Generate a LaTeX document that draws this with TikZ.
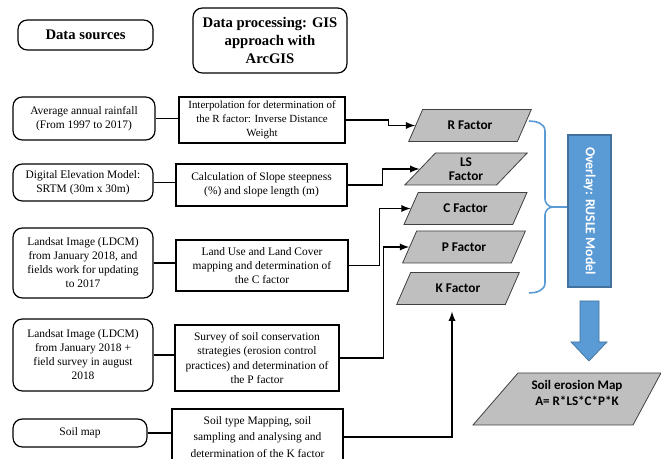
\documentclass[tikz,border=0pt]{standalone}
\usepackage{fontspec}
\setmainfont{Liberation Serif}
\newfontfamily\calibri{Carlito}
\usepackage{tikz}
\usetikzlibrary{arrows,positioning,shapes.geometric}

\definecolor{factorgray}{RGB}{191,191,191}
\definecolor{rusleblue}{RGB}{91,155,213}
\definecolor{rusleedge}{RGB}{65,113,156}
\newcommand{\pxu}{0.75pt}

\tikzset{
	headbox/.style={draw, rounded corners=7pt, line width=0.9pt, align=center, inner sep=0pt,
	  font=\fontsize{11}{13.5}\selectfont\bfseries},
	srcbox/.style={draw, rounded corners=7pt, line width=0.9pt, align=center, inner sep=0pt,
	  font=\fontsize{8.6}{10.5}\selectfont},
	procbox/.style={draw, line width=0.8pt, align=center, inner sep=0pt,
	  font=\fontsize{8.6}{10.8}\selectfont},
	factor/.style={trapezium, trapezium left angle=53, trapezium right angle=127, trapezium stretches=true,
	  draw=black!75, fill=factorgray, line width=0.6pt, minimum width=123*\pxu, minimum height=32*\pxu,
	  align=center, inner sep=0pt, font=\calibri\bfseries\fontsize{10}{10.5}\selectfont},
	rusle_box/.style={draw=rusleedge, fill=rusleblue, line width=0.8pt, rotate=-90, text=white,
	  minimum width=152*\pxu, minimum height=43*\pxu, inner sep=0pt, font=\calibri\bfseries\fontsize{10.3}{12}\selectfont},
	map_shape/.style={draw=black!75, fill=factorgray, line width=0.6pt},
	map_text/.style={align=center, inner sep=0pt, font=\calibri\bfseries\fontsize{9.8}{12}\selectfont},
	brace_line/.style={rusleblue, line width=1.2pt},
	link/.style={line width=1.4pt},
	flow/.style={line width=1.4pt, -latex},
}

\begin{document}
\begin{tikzpicture}[x=\pxu, y=-\pxu]
	\useasboundingbox (0,0) rectangle (661,459);
	\clip (0,0) rectangle (661,459);

	\node[headbox, minimum width=135*\pxu, minimum height=30*\pxu] (head_src) at (85.5,35) {Data sources};
	\node[headbox, minimum width=154*\pxu, minimum height=65*\pxu] (head_proc) at (270,40.5)
	  {Data processing: GIS\\approach with\\ArcGIS};

	\node[srcbox, minimum width=142*\pxu, minimum height=43*\pxu] (src_rain) at (84,118.5)
	  {Average annual rainfall\\(From 1997 to 2017)};
	\node[srcbox, minimum width=140*\pxu, minimum height=37*\pxu] (src_dem) at (83,182.5)
	  {Digital Elevation Model:\\SRTM (30m x 30m)};
	\node[srcbox, minimum width=140*\pxu, minimum height=70*\pxu] (src_lu) at (83,263)
	  {Landsat Image (LDCM)\\from January 2018, and\\fields work for updating\\to 2017};
	\node[srcbox, minimum width=140*\pxu, minimum height=72*\pxu] (src_p) at (83,355)
	  {Landsat Image (LDCM)\\from January 2018 +\\field survey in august\\2018};
	\node[srcbox, minimum width=134*\pxu, minimum height=28*\pxu] (src_soil) at (80,433) {Soil map};

	\node[procbox, minimum width=166*\pxu, minimum height=46*\pxu, font=\fontsize{8.2}{10.6}\selectfont] (proc_r) at (262,120)
	  {Interpolation for determination of\\the R factor: Inverse Distance\\Weight};
	\node[procbox, minimum width=171*\pxu, minimum height=42*\pxu] (proc_slope) at (261.5,185)
	  {Calculation of Slope steepness\\(\%) and slope length (m)};
	\node[procbox, minimum width=172*\pxu, minimum height=51*\pxu] (proc_lu) at (262,265.5)
	  {Land Use and Land Cover\\mapping and determination of\\the C factor};
	\node[procbox, minimum width=164*\pxu, minimum height=66*\pxu] (proc_p) at (257,358)
	  {Survey of soil conservation\\strategies (erosion control\\practices) and determination of\\the P factor};
	\node[procbox, minimum width=171*\pxu, minimum height=56*\pxu, font=\fontsize{8.6}{12.4}\selectfont] (proc_k) at (257.5,437)
	  {Soil type Mapping, soil\\sampling and analysing and\\determination of the K factor};

	\node[factor] (fac_r) at (470,125.5) {R Factor};
	\node[factor] (fac_ls) at (466,169) {LS\\Factor};
	\node[factor] (fac_c) at (465.5,208.5) {C Factor};
	\node[factor] (fac_p) at (464,247) {P Factor};
	\node[factor] (fac_k) at (458,288.5) {K Factor};

	\node[rusle_box] (rusle) at (589.5,211) {Overlay: RUSLE Model};

	\draw[map_shape] (473,425) -- (518,373) -- (661,373) -- (633,425) -- cycle;
	\node[map_text] (soil_map) at (577,393) {Soil erosion Map\\A= R*LS*C*P*K};

	\draw[link] (src_rain.east) -- (src_rain.east -| proc_r.west);
	\draw[link] (src_dem.east) -- (src_dem.east -| proc_slope.west);
	\draw[link] (src_lu.east) -- (src_lu.east -| proc_lu.west);
	\draw[link] (src_p.east) -- (src_p.east -| proc_p.west);
	\draw[link] (src_soil.east) -- (src_soil.east -| proc_k.west);

	\draw[flow] (proc_r.east) -- ++(43,0) |- (fac_r.west);
	\draw[flow] (proc_slope.east) -- ++(35,0) |- (fac_ls.west);
	\draw[flow] (proc_lu.east) -- ++(31,0) |- (fac_c.west);
	\draw[flow] (proc_p.east) -- ++(44,0) |- (fac_p.west);
	\draw[flow, shorten >=5pt] (proc_k.east) -| ([xshift=-4.5pt]fac_k.south);

	\coordinate (brace_top) at (529,121);
	\coordinate (brace_tip) at (553,207);
	\coordinate (brace_bot) at (529,293);
	\draw[brace_line] (brace_top) to[out=0,in=90] (545,131) -- (545,199) to[out=-90,in=180] (brace_tip)
	  to[out=180,in=90] (545,215) -- (545,283) to[out=-90,in=0] (brace_bot);
	\draw[brace_line] (brace_tip) -- (brace_tip -| rusle.south);

	\draw[rusleedge, fill=rusleblue, line width=0.5pt] (580,301) -- (599,301) -- (599,342) -- (607,342)
	  -- (589,361) -- (571,342) -- (580,342) -- cycle;
\end{tikzpicture}
\end{document}
